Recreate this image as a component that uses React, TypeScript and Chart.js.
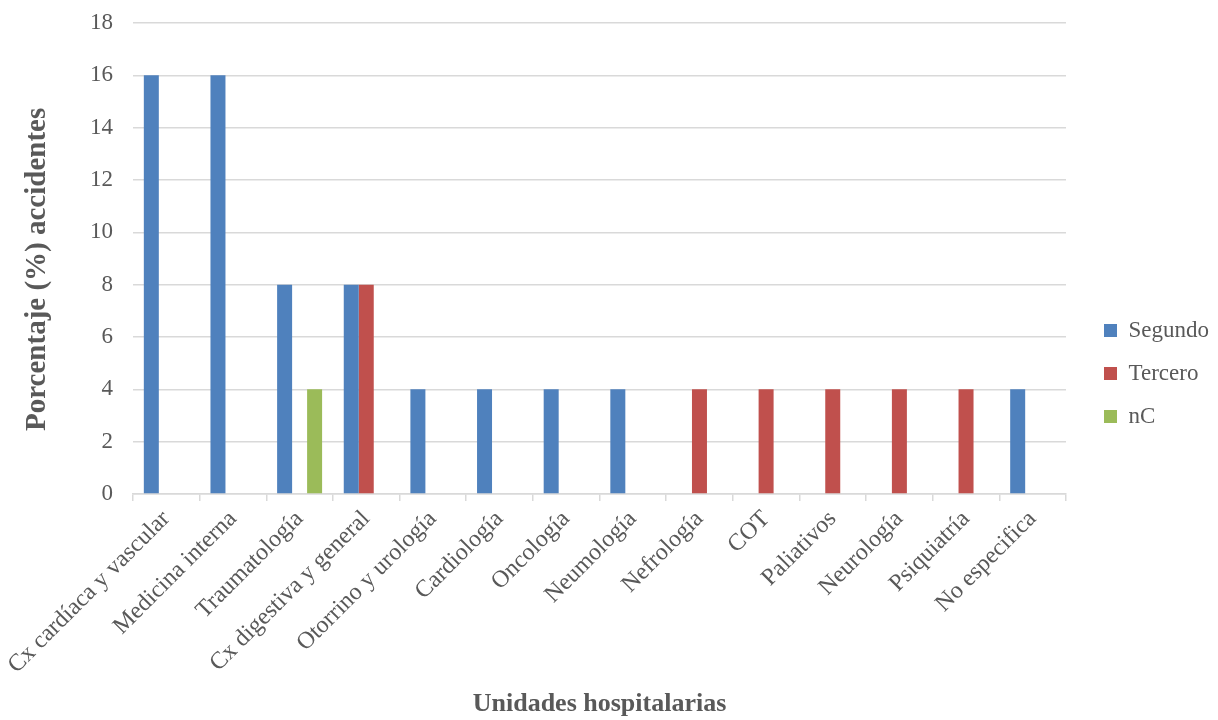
import React, { useEffect, useRef } from "react";
import { Chart, registerables } from "chart.js";

Chart.register(...registerables);

const categories = [
  "Cx cardíaca y vascular",
  "Medicina interna",
  "Traumatología",
  "Cx digestiva y general",
  "Otorrino y urología",
  "Cardiología",
  "Oncología",
  "Neumología",
  "Nefrología",
  "COT",
  "Paliativos",
  "Neurología",
  "Psiquiatría",
  "No especifica",
];
const segundo = [16, 16, 8, 8, 4, 4, 4, 4, 0, 0, 0, 0, 0, 4];
const tercero = [0, 0, 0, 8, 0, 0, 0, 0, 4, 4, 4, 4, 4, 0];
const nC = [0, 0, 4, 0, 0, 0, 0, 0, 0, 0, 0, 0, 0, 0];
const yTicks = [0, 2, 4, 6, 8, 10, 12, 14, 16, 18];

const FONT = "'Liberation Serif', 'Times New Roman', serif";
const TEXT = "#595959";
const GRID = "#d9d9d9";

export default function App() {
  const ref = useRef<HTMLCanvasElement | null>(null);
  useEffect(() => {
    document.body.style.margin = "0";
    const legendShift = {
      id: "legendShift",
      afterLayout(chart: any) {
        const lg = chart.legend;
        if (!lg) return;
        const w = lg.right - lg.left;
        lg.left = 1084;
        lg.right = lg.left + w;
        lg.top += 2;
        lg.bottom += 2;
      },
    };
    const chart = new Chart(ref.current!, {
      type: "bar",
      data: {
        labels: categories,
        datasets: [
          { label: "Segundo", data: segundo, backgroundColor: "#4F81BD" },
          { label: "Tercero", data: tercero, backgroundColor: "#C0504D" },
          { label: "nC", data: nC, backgroundColor: "#9BBB59" },
        ],
      },
      plugins: [legendShift],
      options: {
        animation: false,
        responsive: false,
        maintainAspectRatio: false,
        datasets: { bar: { categoryPercentage: 0.675, barPercentage: 1 } },
        layout: { padding: { left: 16, right: 17, top: 23, bottom: 0 } },
        plugins: {
          tooltip: { enabled: false },
          legend: {
            position: "right",
            labels: {
              boxWidth: 13,
              boxHeight: 13,
              padding: 20,
              color: TEXT,
              font: { family: FONT, size: 23 },
            },
          },
        },
        scales: {
          x: {
            grid: {
              display: true,
              drawOnChartArea: false,
              drawTicks: true,
              tickLength: 7,
              offset: true,
              color: GRID,
              lineWidth: 1.5,
            },
            border: { display: true, color: GRID, width: 1.5 },
            ticks: {
              color: TEXT,
              font: { family: FONT, size: 24 },
              minRotation: 45,
              maxRotation: 45,
              autoSkip: false,
              padding: 4,
            },
            title: {
              display: true,
              text: "Unidades hospitalarias",
              color: TEXT,
              font: { family: FONT, size: 26, weight: "bold" },
              padding: { top: 0, bottom: 0 },
            },
            afterFit(scale: any) {
              scale.height = 226;
            },
          },
          y: {
            min: 0,
            max: 18,
            afterBuildTicks(scale: any) {
              scale.ticks = yTicks.map((v) => ({ value: v }));
            },
            grid: { color: GRID, lineWidth: 1.5, drawTicks: false },
            border: { display: false },
            ticks: {
              color: TEXT,
              font: { family: FONT, size: 23 },
              padding: 20,
            },
            title: {
              display: true,
              text: "Porcentaje (%) accidentes   ",
              color: TEXT,
              font: { family: FONT, size: 29, weight: "bold" },
              padding: { top: 4, bottom: 4 },
            },
            afterFit(scale: any) {
              scale.width = 117;
              scale.paddingTop = 0;
              scale.paddingBottom = 0;
            },
          },
        },
      },
    });
    return () => chart.destroy();
  }, []);
  return (
    <div style={{ width: 1218, height: 720 }}>
      <canvas ref={ref} width={1218} height={720} style={{ display: "block" }} />
    </div>
  );
}
